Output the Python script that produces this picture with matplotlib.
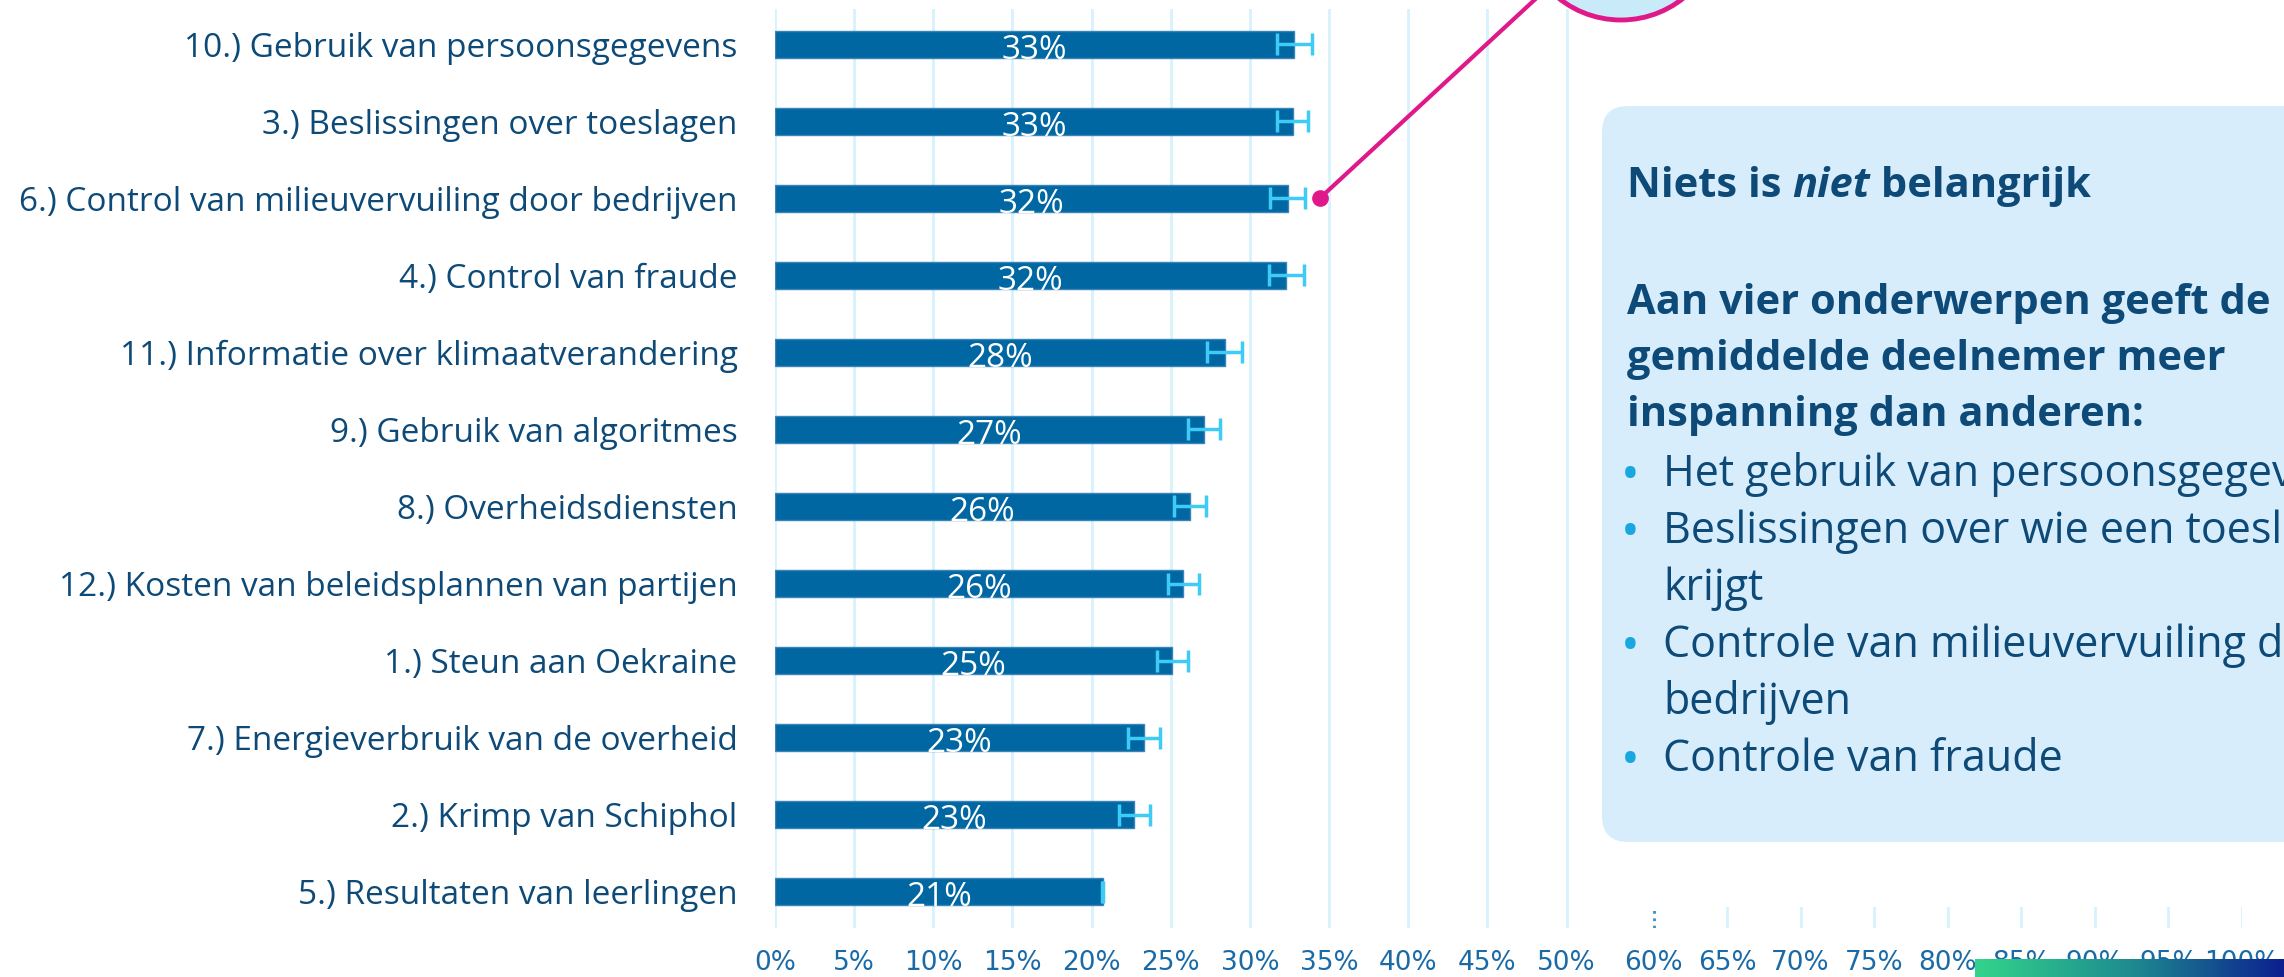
import numpy as np
import matplotlib.pyplot as plt
from matplotlib.patches import Circle, FancyBboxPatch
from matplotlib.colors import LinearSegmentedColormap

# data (top to bottom)
categories = [
    "10.) Gebruik van persoonsgegevens",
    "3.) Beslissingen over toeslagen",
    "6.) Control van milieuvervuiling door bedrijven",
    "4.) Control van fraude",
    "11.) Informatie over klimaatverandering",
    "9.) Gebruik van algoritmes",
    "8.) Overheidsdiensten",
    "12.) Kosten van beleidsplannen van partijen",
    "1.) Steun aan Oekraine",
    "7.) Energieverbruik van de overheid",
    "2.) Krimp van Schiphol",
    "5.) Resultaten van leerlingen",
]
values = [32.8, 32.7, 32.4, 32.3, 28.4, 27.1, 26.2, 25.8, 25.1, 23.3, 22.7, 20.7]
errors = [1.1, 1.0, 1.1, 1.1, 1.1, 1.0, 1.0, 1.0, 1.0, 1.0, 1.0, 0.05]
ticks_left = list(range(0, 55, 5))
ticks_right = list(range(60, 105, 5))
callout_idx = 2

heading = ["Niets is ", "niet", " belangrijk"]
sub_heading = ["Aan vier onderwerpen geeft de", "gemiddelde deelnemer meer",
               "inspanning dan anderen:"]
bullets = [["Het gebruik van persoonsgegevens"],
           ["Beslissingen over wie een toeslag", "krijgt"],
           ["Controle van milieuvervuiling door", "bedrijven"],
           ["Controle van fraude"]]

NAVY = "#0d4a78"
TICK = "#1a6aa8"
BAR = "#0067a3"
GRID = "#d6f2fc"
ERR = "#3ecbf6"
PINK = "#e0198a"
NARROW = ["Liberation Sans Narrow", "DejaVu Sans"]
SANS = ["Open Sans", "DejaVu Sans"]
W, H = 2284, 977

fig = plt.figure(figsize=(W / 100, H / 100), dpi=100)

# main bar chart
ax = fig.add_axes([775 / W, 1 - 928 / H, 52 * 15.83 / W, (928 - 9) / H])
y = np.arange(len(categories))
ax.barh(y, values, height=0.35, color=BAR, edgecolor="#3a85b8", linewidth=1, zorder=2)
ax.errorbar(values, y, xerr=errors, fmt="none", ecolor=ERR, elinewidth=2.5,
            capsize=8, capthick=2.5, zorder=3)
for i, v in enumerate(values):
    ax.text(v / 2, i + 0.08, f"{round(v)}%", ha="center", va="center",
            color="white", fontsize=24, family=SANS, zorder=4)
ax.set_xlim(0, 52)
ax.set_ylim(11.474, -0.461)
ax.set_xticks(ticks_left)
ax.set_xticklabels([f"{t}%" for t in ticks_left], family=NARROW, fontsize=19, color=TICK)
ax.set_yticks(y)
ax.set_yticklabels(categories, family=SANS, fontsize=24, color=NAVY)
ax.tick_params(length=0, axis="y", pad=27)
ax.tick_params(length=0, axis="x", pad=16)
ax.xaxis.grid(True, color=GRID, linewidth=2, zorder=0)
ax.set_axisbelow(True)
for s in ax.spines.values():
    s.set_visible(False)

# callout dot
dot_x = values[callout_idx] + errors[callout_idx] + 0.9
ax.plot([dot_x], [callout_idx], "o", color=PINK, markersize=11, clip_on=False, zorder=5)

# right part of the axis (stubs only)
ax2 = fig.add_axes([1580 / W, 1 - 928 / H, 662 / W, 21 / H])
ax2.set_xlim(55, 100)
ax2.set_ylim(0, 1)
ax2.set_xticks(ticks_right)
ax2.set_xticklabels([f"{t}%" for t in ticks_right], family=NARROW, fontsize=19, color=TICK)
ax2.set_yticks([])
ax2.tick_params(length=0, axis="x", pad=16)
ax2.xaxis.grid(True, color=GRID, linewidth=2)
ax2.get_xgridlines()[0].set(color="#3f8cc4", linestyle=":", linewidth=2)
for s in ax2.spines.values():
    s.set_visible(False)
ax2.patch.set_alpha(0)

# overlay for the slide decorations
ov = fig.add_axes([0, 0, 1, 1])
ov.set_axis_off()
ov.set_xlim(0, W)
ov.set_ylim(H, 0)

box = FancyBboxPatch((1602, 106), 900, 736, boxstyle="round,pad=0,rounding_size=26",
                     fc="#d7edfc", ec="none")
ov.add_patch(box)

# connector line and circle
dot_pix = ax.transData.transform((dot_x, callout_idx))
dx, dy = ov.transData.inverted().transform(dot_pix)
ov.plot([dx, 1621], [dy, -80], color=PINK, linewidth=3, zorder=2)
ov.add_patch(Circle((1621, -80), 100, fc="#c9eaf8", ec=PINK, lw=3.5, zorder=3))

# gradient banner
cmap = LinearSegmentedColormap.from_list("band", ["#33d48b", "#1e8c90", "#0c1f8f"])
ov.imshow(np.linspace(0, 1, 256)[None, :], extent=[1975, W, H, 959], aspect="auto",
          cmap=cmap, zorder=4)
ov.set_xlim(0, W)
ov.set_ylim(H, 0)

# box text
renderer = fig.canvas.get_renderer()
x = 1627
for part, style in zip(heading, ["normal", "italic", "normal"]):
    t = ov.text(x, 197, part, fontsize=30, fontweight="bold", style=style,
                family=SANS, color=NAVY, va="baseline")
    x += t.get_window_extent(renderer).width
base = 314
for line in sub_heading:
    ov.text(1627, base, line, fontsize=30, fontweight="bold",
            family=SANS, color=NAVY, va="baseline")
    base += 56
base = 486
for item in bullets:
    ov.text(1621, base + 4, "\u2022", fontsize=36, color="#19a7df",
            family=SANS, va="baseline")
    for line in item:
        ov.text(1663, base, line, fontsize=31, family=SANS,
                color=NAVY, va="baseline")
        base += 57

fig.savefig("out.png", dpi=100)
